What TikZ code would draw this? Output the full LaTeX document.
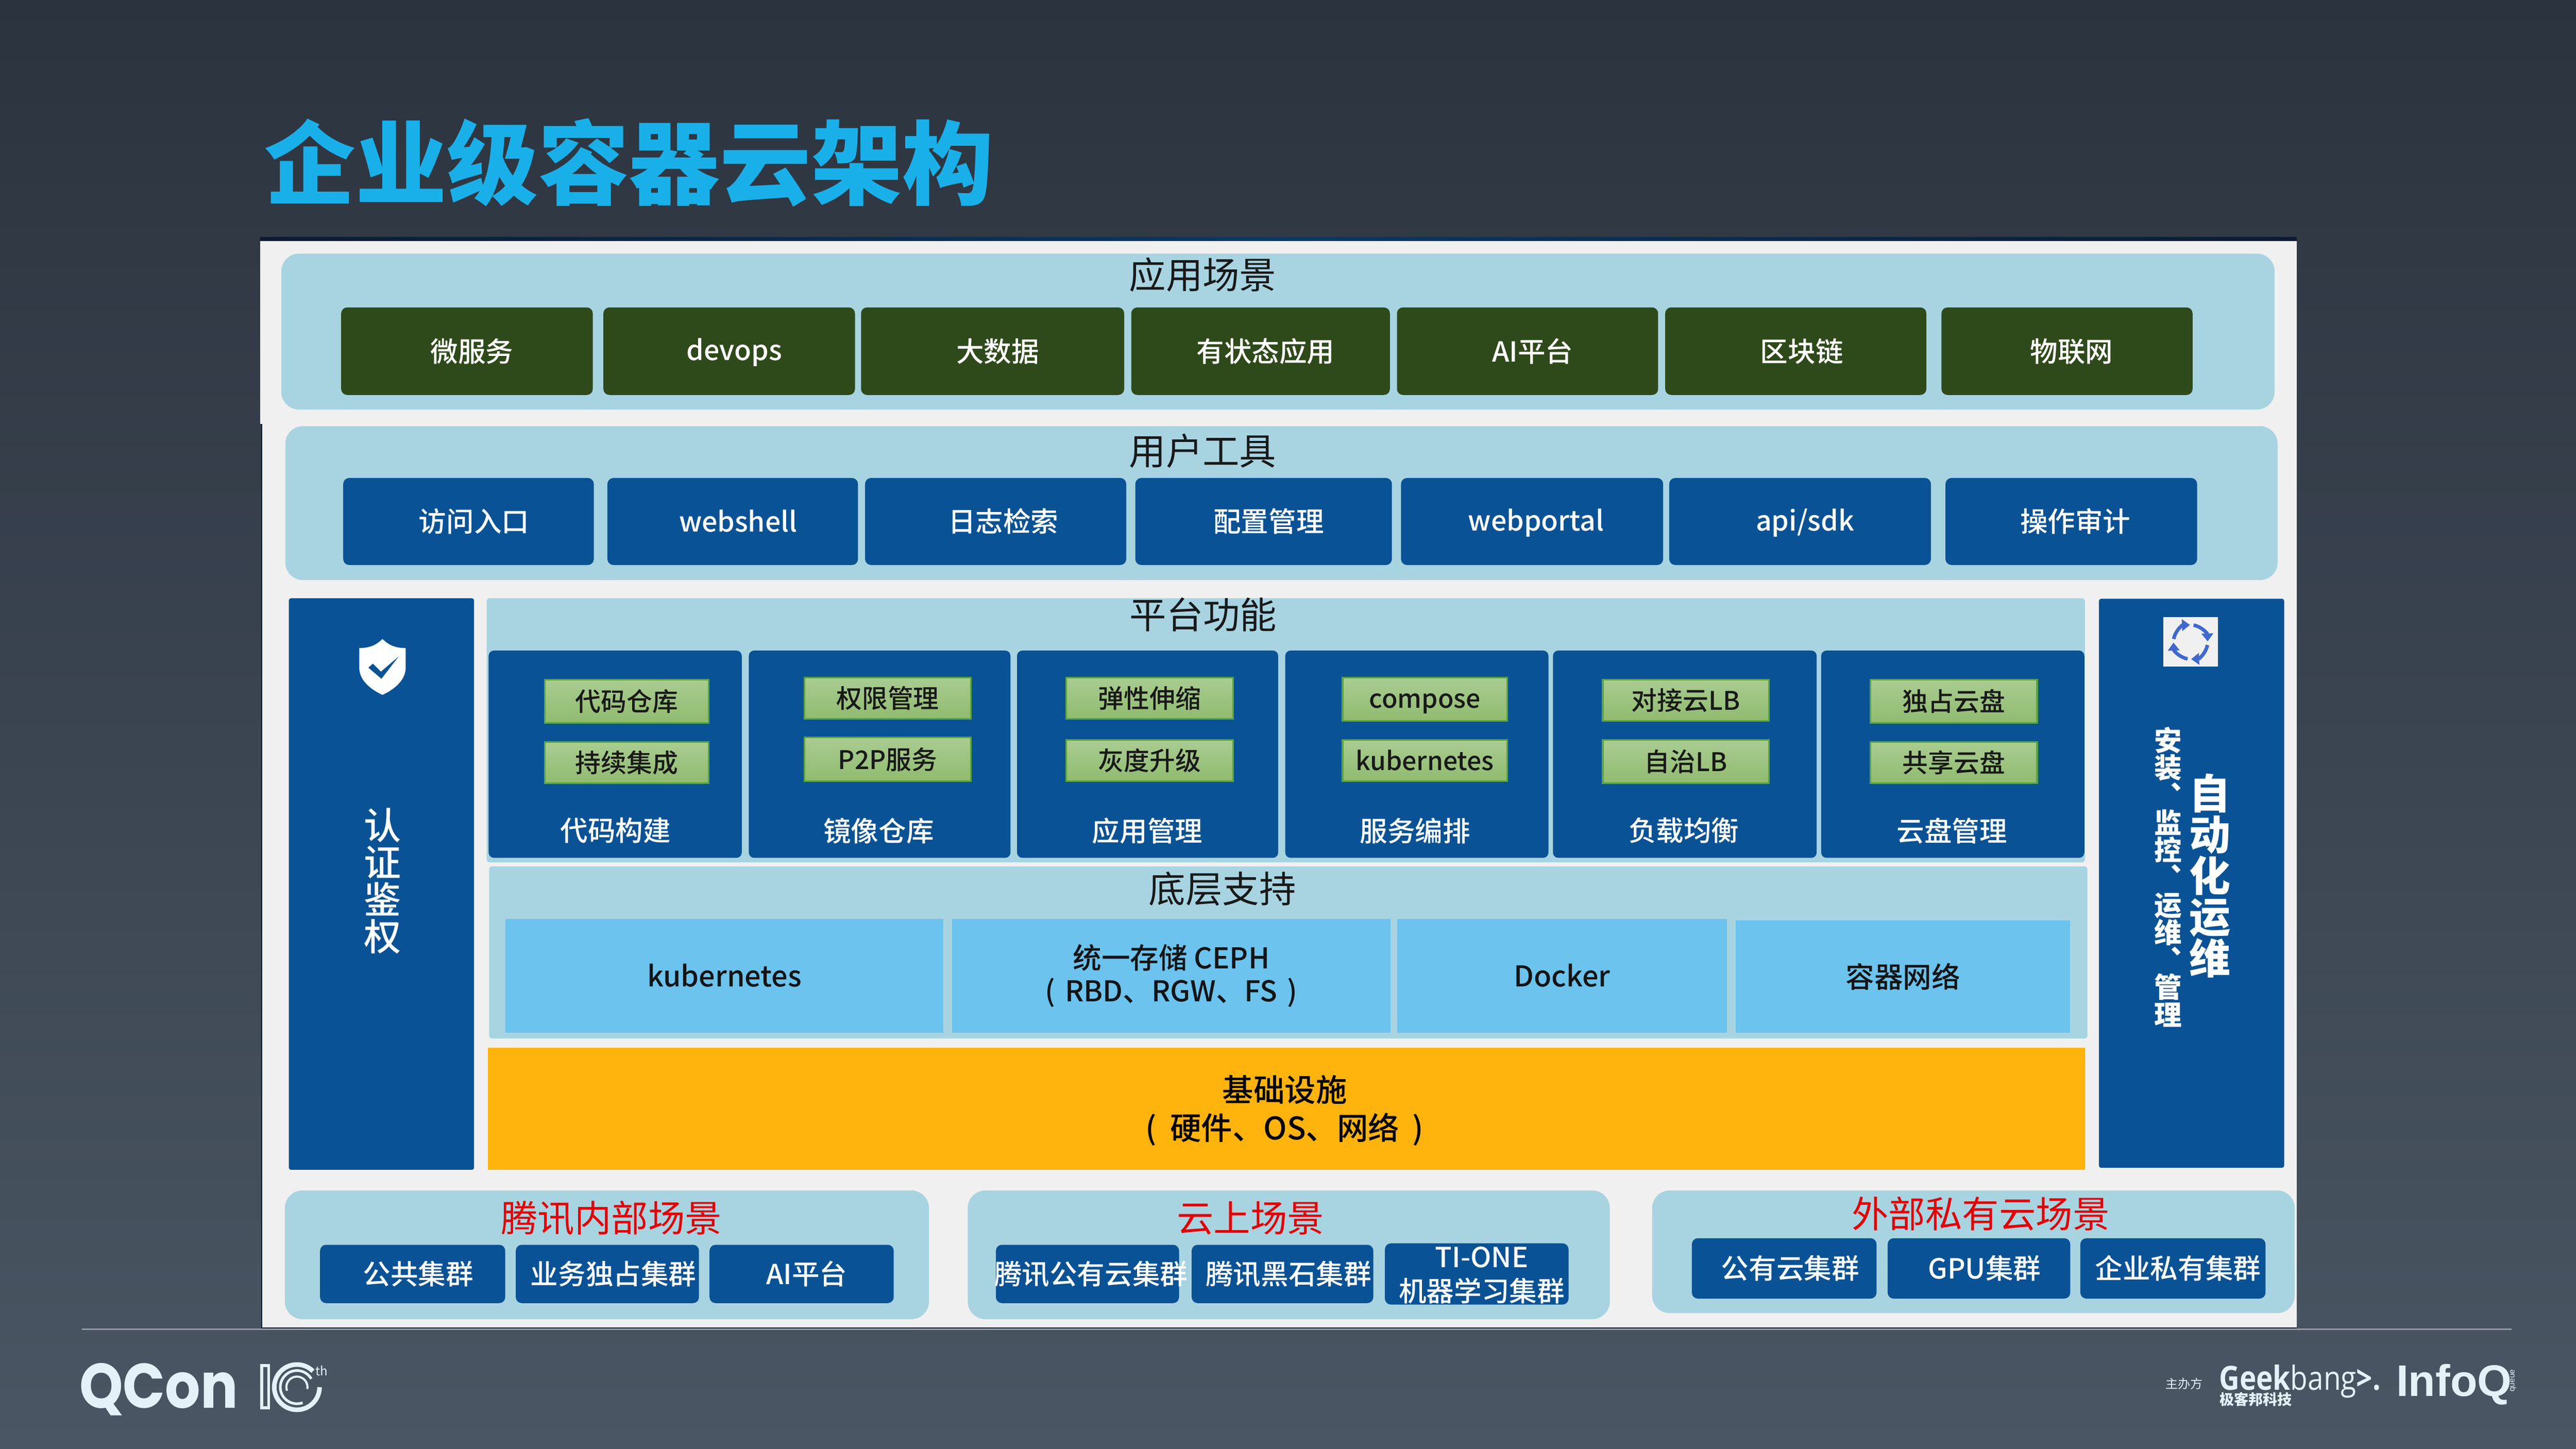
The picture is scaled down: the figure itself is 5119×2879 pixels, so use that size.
\documentclass[tikz,border=0pt]{standalone}
\usepackage{fontspec}
\setmainfont{Noto Sans CJK SC}
\newfontfamily\medfont{Noto Sans CJK SC Medium}
\newfontfamily\logofont[FakeStretch=0.88]{Poppins}
\newfontfamily\arialfont{Liberation Sans}
\newfontfamily\geekfont[FakeStretch=0.85]{Open Sans}
\usetikzlibrary{arrows.meta}
\newlength\pxu
\setlength\pxu{0.01cm}
\definecolor{bgtop}{HTML}{2B333E}
\definecolor{bgbot}{HTML}{4A5663}
\definecolor{lightpanel}{HTML}{A8D4E2}
\definecolor{deepblue}{HTML}{0A5296}
\definecolor{deepgreen}{HTML}{2F4A1A}
\definecolor{skycell}{HTML}{6BC3EE}
\definecolor{amber}{HTML}{FFB30D}
\definecolor{sheet}{HTML}{F1F0F0}
\definecolor{titleblue}{HTML}{19B0EA}
\definecolor{logotext}{HTML}{E4F1F8}
\definecolor{gtop}{HTML}{AACC92}
\definecolor{gbot}{HTML}{8FBB6E}
\definecolor{gedge}{HTML}{5BA53A}
\definecolor{navyedge}{HTML}{0B1B33}
\definecolor{recycle}{HTML}{3F69CF}
% same height for every line, so that latin and chinese sit alike
\newcommand{\cstrut}{\rule[-0.12em]{0pt}{1em}}
% shift the text of a box sideways, the box keeps its own width
\newcommand{\shtxt}[2]{\makebox[0pt]{\cstrut\hspace*{#1\pxu}#2\hspace*{-#1\pxu}}}
\tikzset{
  sz/.style 2 args={minimum width=#1*\pxu,minimum height=#2*\pxu,inner sep=0pt},
  fbig/.style={font=\fontsize{20.8}{25}\selectfont},
  fmid/.style={font=\medfont\fontsize{15.6}{19}\selectfont},
  panel/.style={fill=lightpanel,rounded corners=10pt},
  flatpanel/.style={fill=lightpanel,rounded corners=1.5pt},
  appbox/.style={fill=deepgreen,rounded corners=3.4pt,text=white,fmid},
  toolbox/.style={fill=deepblue,rounded corners=3.4pt,text=white,fmid},
  funcbox/.style={fill=deepblue,rounded corners=3pt},
  funclab/.style={text=white,fmid,inner sep=0pt},
  gbox/.style={top color=gtop,bottom color=gbot,draw=gedge,line width=0.9pt,text=black!90,font=\medfont\fontsize{14.5}{18}\selectfont,execute at begin node=\cstrut},
  cell/.style={fill=skycell,text=black!92,align=center,font=\medfont\fontsize{16.2}{18.8}\selectfont,execute at begin node=\cstrut},
  headred/.style={text=red!90!black,fbig,inner sep=0pt},
  headblack/.style={text=black!90,fbig,inner sep=0pt},
  sidebox/.style={fill=deepblue,rounded corners=1.2pt},
  logo/.style={text=logotext,inner sep=0pt},
}
\begin{document}
\begin{tikzpicture}[x=0.01cm,y=-0.01cm]
\useasboundingbox (0,0) rectangle (5119,2879);
% backdrop and sheet
\shade[top color=bgtop,bottom color=bgbot] (0,0) rectangle (5119,2879);
\fill[sheet] (517,479) rectangle (4564,843);
\fill[sheet] (521,843) rectangle (4564,2639);
\shade[left color=navyedge,right color=navyedge,middle color=deepblue!70!black] (517,471) rectangle (4564,479);
\fill[navyedge] (519,843) rectangle (521,2639);
\fill[navyedge] (519,2638) rectangle (4564,2640);
\fill[bgbot!60!white] (163,2640) rectangle (4991,2643);
%
\node (title) [text=titleblue,inner sep=0pt,font=\fontsize{51.5}{60}\bfseries\selectfont] at (1250,323) {企业级容器云架构};
%
\node (apppanel) [panel,sz={3961}{310}] at (2539.5,659) {};
\node (apphead) [headblack] at (2390,546) {应用场景};
\node (app1) [appbox,sz={500}{174}] at (928,698) {\shtxt{10}{微服务}};
\node (app2) [appbox,sz={500}{174}] at (1449,698) {\shtxt{10}{devops}};
\node (app3) [appbox,sz={523}{174}] at (1972.5,698) {\shtxt{10}{大数据}};
\node (app4) [appbox,sz={514}{174}] at (2505,698) {\shtxt{10}{有状态应用}};
\node (app5) [appbox,sz={519}{174}] at (3035.5,698) {\shtxt{10}{AI平台}};
\node (app6) [appbox,sz={519}{174}] at (3568.5,698) {\shtxt{12}{区块链}};
\node (app7) [appbox,sz={499}{174}] at (4107.5,698) {\shtxt{9}{物联网}};
%
\node (toolpanel) [panel,sz={3959}{306}] at (2546.5,1000) {};
\node (toolhead) [headblack] at (2390,896) {用户工具};
\node (tool1) [toolbox,sz={498}{173}] at (931,1036.5) {\shtxt{11}{访问入口}};
\node (tool2) [toolbox,sz={498}{173}] at (1456,1036.5) {\shtxt{11}{webshell}};
\node (tool3) [toolbox,sz={519}{173}] at (1978.5,1036.5) {\shtxt{15}{日志检索}};
\node (tool4) [toolbox,sz={510}{173}] at (2511,1036.5) {\shtxt{10}{配置管理}};
\node (tool5) [toolbox,sz={521}{173}] at (3044.5,1036.5) {\shtxt{8}{webportal}};
\node (tool6) [toolbox,sz={520}{173}] at (3577,1036.5) {\shtxt{10}{api/sdk}};
\node (tool7) [toolbox,sz={500}{173}] at (4116,1036.5) {\shtxt{8}{操作审计}};
%
\node (authbox) [sidebox,sz={368}{1136}] at (758,1757) {};
\fill[white] (760,1270) .. controls (745,1285) and (730,1288) .. (714,1288) -- (714,1330) .. controls (716,1355) and (740,1372) .. (760,1381)
  .. controls (780,1372) and (804,1355) .. (806,1330) -- (806,1288) .. controls (790,1288) and (775,1285) .. (760,1270) -- cycle;
\fill[deepblue] (732,1327) -- (741,1319) -- (757,1335) -- (792,1305) -- (758,1349) -- cycle;
\node (authtext) [text=white,inner sep=0pt,align=center,font=\medfont\fontsize{21}{21}\selectfont] at (760,1751) {认\\证\\鉴\\权};
%
\node (opsbox) [sidebox,sz={368}{1131}] at (4355,1755.5) {};
\node (opsicon) [fill=sheet,sz={108}{98}] at (4353,1276) {};
\foreach \a in {10,100,190,280}
  \draw[recycle,line width=2pt,-{Triangle[width=6.5pt,length=4.5pt]}] ([shift={(\a:34)}]opsicon.center) arc[start angle=\a,end angle=\a+78,radius=34];
\node (opstext) [text=white,inner sep=0pt,align=center,font=\fontsize{23.3}{23.3}\bfseries\selectfont] at (4392,1741) {自\\动\\化\\运\\维};
\node (opssub) [text=white,inner sep=0pt,align=center,font=\fontsize{15.6}{15.5}\bfseries\selectfont] at (4308,1743) {安\\装\\︑\\监\\控\\︑\\运\\维\\︑\\管\\理};
%
\node (platpanel) [flatpanel,sz={3176}{525}] at (2555,1451.5) {};
\node (plathead) [headblack] at (2391,1222) {平台功能};
\node (func1) [funcbox,sz={503}{412}] at (1222.5,1499) {};
\node (func2) [funcbox,sz={520}{412}] at (1748,1499) {};
\node (func3) [funcbox,sz={519}{412}] at (2280.5,1499) {};
\node (func4) [funcbox,sz={523}{412}] at (2815.5,1499) {};
\node (func5) [funcbox,sz={524}{412}] at (3348,1499) {};
\node (func6) [funcbox,sz={523}{412}] at (3880.5,1499) {};
\node (lab1) [funclab] at (1223,1651) {代码构建};
\node (lab2) [funclab] at (1746,1651) {镜像仓库};
\node (lab3) [funclab] at (2280,1651) {应用管理};
\node (lab4) [funclab] at (2812,1651) {服务编排};
\node (lab5) [funclab] at (3346,1651) {负载均衡};
\node (lab6) [funclab] at (3879,1651) {云盘管理};
%
\node (g1a) [gbox,sz={325}{86}] at (1245.5,1394) {代码仓库};
\node (g1b) [gbox,sz={325}{82}] at (1245.5,1516) {持续集成};
\node (g2a) [gbox,sz={330}{82}] at (1764,1388) {权限管理};
\node (g2b) [gbox,sz={330}{87}] at (1764,1509.5) {P2P服务};
\node (g3a) [gbox,sz={331}{82}] at (2284.5,1388) {弹性伸缩};
\node (g3b) [gbox,sz={331}{82}] at (2284.5,1512) {灰度升级};
\node (g4a) [gbox,sz={327}{86}] at (2831.5,1390) {compose};
\node (g4b) [gbox,sz={327}{82}] at (2831.5,1512) {kubernetes};
\node (g5a) [gbox,sz={330}{82}] at (3350,1392) {对接云LB};
\node (g5b) [gbox,sz={330}{86}] at (3350,1514) {自治LB};
\node (g6a) [gbox,sz={331}{86}] at (3882.5,1394) {独占云盘};
\node (g6b) [gbox,sz={331}{82}] at (3882.5,1516) {共享云盘};
%
\node (basepanel) [flatpanel,sz={3176}{342}] at (2560,1893) {};
\node (basehead) [headblack] at (2429,1767) {底层支持};
\node (kube) [cell,sz={871}{227}] at (1439.5,1939.5) {kubernetes};
\node (ceph) [cell,sz={871}{227}] at (2327.5,1939.5) {统一存储 CEPH\\(\hspace{0.12em} RBD、RGW、FS \hspace{0.12em})};
\node (docker) [cell,sz={656}{227}] at (3104,1939.5) {Docker};
\node (cnet) [cell,sz={665}{223}] at (3781.5,1941.5) {容器网络};
%
\node (infra) [fill=amber,sz={3173}{243}] at (2556.5,2203.5) {};
\node (infratext) [text=black,inner sep=0pt,align=center,font=\medfont\fontsize{17.6}{21.6}\selectfont] at (2553,2207) {基础设施\\(\hspace{0.2em} 硬件、OS、网络 \hspace{0.2em})};
%
\node (inpanel) [panel,sz={1280}{256}] at (1206,2494) {};
\node (inhead) [headred] at (1215,2421) {腾讯内部场景};
\node (in1) [toolbox,sz={368}{116}] at (820,2532) {\shtxt{11}{公共集群}};
\node (in2) [toolbox,sz={364}{116}] at (1207,2532) {\shtxt{12}{业务独占集群}};
\node (in3) [toolbox,sz={366}{116}] at (1593,2532) {\shtxt{10}{AI平台}};
%
\node (cloudpanel) [panel,sz={1276}{256}] at (2561,2494) {};
\node (cloudhead) [headred] at (2485,2421) {云上场景};
\node (cl1) [toolbox,sz={364}{116}] at (2161,2532) {\shtxt{7}{腾讯公有云集群}};
\node (cl2) [toolbox,sz={361}{116}] at (2548.5,2532) {\shtxt{12}{腾讯黑石集群}};
\node (cl3) [toolbox,sz={365}{116},align=center,font=\medfont\fontsize{15.6}{19}\selectfont] at (2934.5,2532) {\shtxt{10}{TI-ONE}\\\shtxt{10}{机器学习集群}};
%
\node (extpanel) [panel,sz={1277}{244}] at (3921.5,2488) {};
\node (exthead) [headred] at (3936,2412) {外部私有云场景};
\node (ex1) [toolbox,sz={367}{120}] at (3545.5,2521) {\shtxt{12}{公有云集群}};
\node (ex2) [toolbox,sz={363}{120}] at (3932.5,2521) {\shtxt{11}{GPU集群}};
\node (ex3) [toolbox,sz={368}{120}] at (4318,2521) {\shtxt{10}{企业私有集群}};
%
% logos along the bottom
\node (qcon) [logo,anchor=west,font=\logofont\fontsize{35.6}{40}\bfseries\selectfont] at (157,2761) {QCon};
\draw[logotext,line width=1.6pt] (520,2714) rectangle (534,2798);
\coordinate (ten) at (590,2757);
\draw[logotext,line width=2.6pt] ([shift={(-45:45)}]ten) arc[start angle=-45,end angle=-360,radius=45];
\draw[logotext,line width=1.5pt] ([shift={(-30:33)}]ten) arc[start angle=-30,end angle=-290,radius=33];
\draw[logotext,line width=1.2pt] ([shift={(10:21)}]ten) arc[start angle=10,end angle=-200,radius=21];
\node (tenth) [logo,font=\fontsize{7}{8}\selectfont] at (639,2724) {th};
\node (host) [logo,font=\fontsize{7}{8}\selectfont] at (4340,2750) {主办方};
\node (geek) [logo,anchor=west,font=\geekfont\fontsize{18.8}{22}\selectfont] at (4409,2746) {\textbf{Geek}bang\textbf{>.}};
\node (geekcn) [logo,anchor=west,font=\fontsize{8.2}{10}\bfseries\selectfont] at (4410,2781) {极客邦科技};
\node (infoq) [logo,anchor=west,font=\arialfont\fontsize{25}{28}\bfseries\selectfont] at (4761,2752) {InfoQ};
\node (queue) [logo,rotate=90,font=\arialfont\fontsize{4.5}{5}\selectfont] at (4994,2744) {queue};
\end{tikzpicture}
\end{document}
